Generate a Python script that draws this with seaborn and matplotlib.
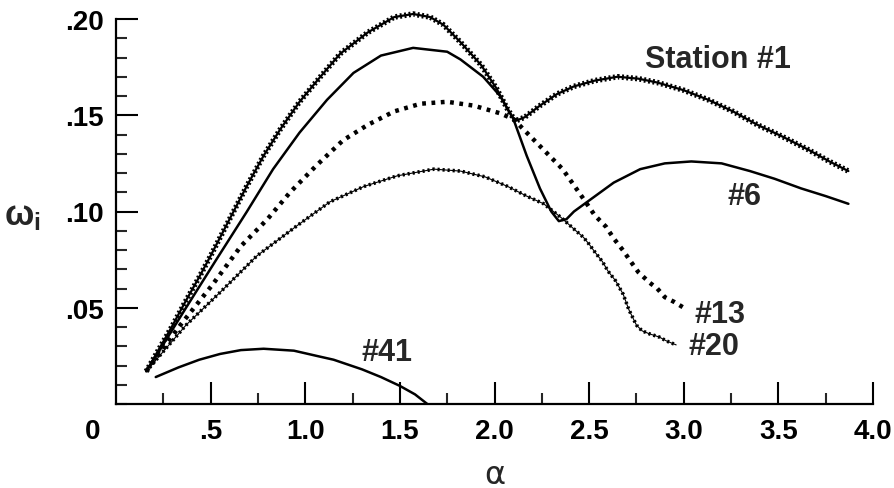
import numpy as np
import pandas as pd
import matplotlib
matplotlib.use("Agg")
import matplotlib.pyplot as plt
from matplotlib.transforms import ScaledTranslation
from matplotlib.ticker import MultipleLocator, FixedLocator
import seaborn as sns

# ---------------- data ----------------
station1_x = [0.16, 0.23, 0.30, 0.36, 0.44, 0.50, 0.60, 0.69, 0.78, 0.87, 0.97, 1.08, 1.185,
              1.33, 1.47, 1.57, 1.66, 1.73, 1.82, 1.93, 2.01, 2.07, 2.11, 2.16, 2.24, 2.33,
              2.42, 2.53, 2.65, 2.76, 2.86, 3.00, 3.13, 3.26, 3.39, 3.52, 3.66, 3.77, 3.87]
station1_y = [0.017, 0.029, 0.041, 0.052, 0.066, 0.077, 0.096, 0.113, 0.129, 0.143, 0.157, 0.170, 0.182,
              0.193, 0.201, 0.2026, 0.201, 0.197, 0.188, 0.176, 0.164, 0.153, 0.147, 0.149, 0.155, 0.161,
              0.165, 0.168, 0.170, 0.169, 0.167, 0.163, 0.158, 0.152, 0.145, 0.139, 0.132, 0.126, 0.121]

st6_x = [0.16, 0.25, 0.37, 0.53, 0.69, 0.83, 0.97, 1.115, 1.255, 1.40, 1.57, 1.75, 1.82, 1.94,
         2.03, 2.10, 2.17, 2.24, 2.30, 2.34, 2.38, 2.42, 2.49, 2.63, 2.77, 2.90, 3.04, 3.20,
         3.35, 3.48, 3.62, 3.75, 3.87]
st6_y = [0.017, 0.031, 0.050, 0.075, 0.0997, 0.122, 0.141, 0.158, 0.172, 0.181, 0.185, 0.183, 0.179, 0.170,
         0.160, 0.148, 0.129, 0.112, 0.100, 0.095, 0.096, 0.100, 0.105, 0.115, 0.122, 0.125, 0.126, 0.125,
         0.121, 0.117, 0.112, 0.108, 0.104]

st13_x = [0.16, 0.34, 0.51, 0.66, 0.80, 0.92, 1.06, 1.20, 1.33, 1.47, 1.61, 1.75, 1.89, 2.03,
          2.10, 2.18, 2.27, 2.36, 2.46, 2.53, 2.59, 2.63, 2.68, 2.72, 2.76, 2.82, 2.86, 2.90,
          2.95, 3.00]
st13_y = [0.017, 0.041, 0.062, 0.082, 0.096, 0.110, 0.124, 0.137, 0.145, 0.152, 0.156, 0.157, 0.155, 0.151,
          0.148, 0.140, 0.131, 0.122, 0.108, 0.098, 0.092, 0.086, 0.0797, 0.074, 0.0685, 0.063, 0.060, 0.0555,
          0.053, 0.050]

st20_x = [0.16, 0.37, 0.55, 0.745, 0.955, 1.13, 1.31, 1.485, 1.68, 1.82, 1.95, 2.07, 2.17, 2.26,
          2.35, 2.39, 2.43, 2.47, 2.50, 2.53, 2.57, 2.60, 2.64, 2.68, 2.71, 2.75, 2.78, 2.82,
          2.87, 2.91, 2.96]
st20_y = [0.017, 0.041, 0.058, 0.077, 0.0925, 0.105, 0.113, 0.1185, 0.122, 0.121, 0.118, 0.113, 0.108, 0.104,
          0.097, 0.0935, 0.090, 0.0866, 0.083, 0.079, 0.074, 0.069, 0.064, 0.057, 0.049, 0.041, 0.038, 0.0364,
          0.0348, 0.0327, 0.0307]

st41_x = [0.21, 0.33, 0.44, 0.55, 0.66, 0.78, 0.94, 1.06, 1.15, 1.30, 1.40, 1.50, 1.58, 1.645]
st41_y = [0.014, 0.019, 0.023, 0.026, 0.028, 0.0287, 0.0277, 0.025, 0.023, 0.018, 0.014, 0.0094, 0.005, 0.0]

curve_labels = ["Station #1", "#6", "#13", "#20", "#41"]
label_x = [3.18, 3.32, 3.19, 3.16, 1.43]
label_y = [0.179, 0.108, 0.047, 0.030, 0.027]

x_ticks = [0.5, 1.0, 1.5, 2.0, 2.5, 3.0, 3.5, 4.0]
x_ticklabels = [".5", "1.0", "1.5", "2.0", "2.5", "3.0", "3.5", "4.0"]
y_ticks = [0.05, 0.10, 0.15, 0.20]
y_ticklabels = [".05", ".10", ".15", ".20"]

# ---------------- style ----------------
sns.set_style("white")
plt.rcParams["font.family"] = ["Liberation Sans", "DejaVu Sans"]
plt.rcParams["font.weight"] = "bold"
plt.rcParams["mathtext.fontset"] = "custom"
plt.rcParams["mathtext.it"] = "Liberation Sans:bold"
plt.rcParams["mathtext.rm"] = "Liberation Sans:bold"
plt.rcParams["mathtext.bf"] = "Liberation Sans:bold"

fig = plt.figure(figsize=(8.94, 4.89), dpi=100)
ax = fig.add_axes([116 / 894, 1 - 405 / 489, (873 - 116) / 894, (405 - 20) / 489])

def df(x, y):
    return pd.DataFrame({"alpha": x, "omega": y})

# Station #1: thick textured (dense crosses)
sns.lineplot(data=df(station1_x, station1_y), x="alpha", y="omega", ax=ax, color="black",
             lw=1.6, estimator=None, sort=False, clip_on=False)
sns.lineplot(data=df(station1_x, station1_y), x="alpha", y="omega", ax=ax, color="black",
             lw=4.0, linestyle=(0, (0.35, 0.45)), dash_capstyle="butt",
             estimator=None, sort=False, clip_on=False)
# #6: solid
sns.lineplot(data=df(st6_x, st6_y), x="alpha", y="omega", ax=ax, color="black",
             lw=1.8, estimator=None, sort=False)
# #13: large sparse markers
sns.lineplot(data=df(st13_x, st13_y), x="alpha", y="omega", ax=ax, color="black",
             lw=3.2, linestyle=(0, (0.85, 1.25)), dash_capstyle="butt",
             estimator=None, sort=False)
# #20: small dense markers
sns.lineplot(data=df(st20_x, st20_y), x="alpha", y="omega", ax=ax, color="black",
             lw=2.6, linestyle=(0, (0.6, 0.8)), dash_capstyle="butt",
             estimator=None, sort=False)
sns.lineplot(data=df(st20_x, st20_y), x="alpha", y="omega", ax=ax, color="black",
             lw=0.8, estimator=None, sort=False)
# #41: solid
sns.lineplot(data=df(st41_x, st41_y), x="alpha", y="omega", ax=ax, color="black",
             lw=1.8, estimator=None, sort=False)

for t, lx, ly in zip(curve_labels, label_x, label_y):
    ax.text(lx, ly, t, fontsize=22, fontweight="bold", ha="center", va="center")

ax.set_xlim(0, 4.0)
ax.set_ylim(0, 0.20)

ax.xaxis.set_major_locator(FixedLocator([0.0] + x_ticks))
ax.set_xticklabels(["0"] + x_ticklabels)
ax.xaxis.set_minor_locator(MultipleLocator(0.25))
ax.yaxis.set_major_locator(FixedLocator(y_ticks))
ax.set_yticklabels(y_ticklabels)
ax.yaxis.set_minor_locator(MultipleLocator(0.01))

ax.tick_params(which="major", direction="in", length=16, width=1.5, labelsize=20, pad=10, colors="black")
ax.tick_params(which="minor", direction="in", length=8, width=1.5)
ax.tick_params(axis="x", which="both", top=False, bottom=True)
ax.tick_params(axis="y", which="both", left=True, right=False)
ax.tick_params(axis="y", which="major", pad=9)
# the origin "0" sits left of the corner, no tick there
ax.xaxis.get_major_ticks()[0].tick1line.set_visible(False)
lbl0 = ax.xaxis.get_major_ticks()[0].label1
lbl0.set_transform(lbl0.get_transform() + ScaledTranslation(-0.23, 0, fig.dpi_scale_trans))
for lab in ax.get_xticklabels() + ax.get_yticklabels():
    lab.set_fontweight("bold")

for s in ["top", "right"]:
    ax.spines[s].set_visible(False)
for s in ["left", "bottom"]:
    ax.spines[s].set_linewidth(1.6)
    ax.spines[s].set_color("black")

ax.set_xlabel("α", fontsize=23, fontweight="normal", family="DejaVu Sans")
ax.xaxis.set_label_coords(0.5007, -0.182)
ax.xaxis.label.set_va("center")
ax.set_ylabel(r"$\omega_i$", fontsize=25, rotation=0)
ax.yaxis.set_label_coords(-0.124, 0.49)
ax.yaxis.label.set_va("center")
ax.yaxis.label.set_ha("center")

fig.savefig("out.png", dpi=100)
